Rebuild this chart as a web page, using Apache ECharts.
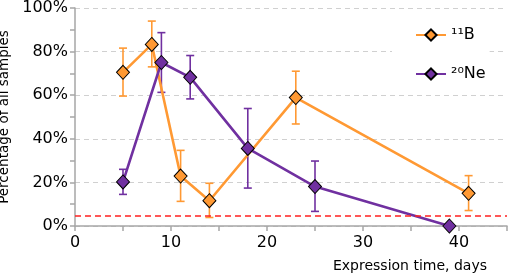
<!DOCTYPE html>
<html>
<head>
<meta charset="utf-8">
<script src="https://cdn.jsdelivr.net/npm/echarts@6/dist/echarts.min.js"></script>
<style>
html,body{margin:0;padding:0;background:#fff;}
#c{width:512px;height:277px;}
</style>
</head>
<body>
<div id="c"></div>
<script>
// ---- data ----
var bName = '\u00B9\u00B9B';
var neName = '\u00B2\u2070Ne';
var bX = [5, 8, 11, 14, 23, 41];
var bY = [70.5, 83.3, 22.9, 11.6, 58.9, 15.0];
var bLow = [59.6, 73.0, 11.3, 3.9, 46.8, 7.1];
var bHigh = [81.6, 94.0, 34.7, 19.6, 71.0, 23.1];
var neX = [5, 9, 12, 18, 25, 39];
var neY = [20.2, 75.0, 68.2, 35.6, 18.1, 0.0];
var neLow = [14.5, 61.3, 58.3, 17.4, 6.7, null];
var neHigh = [26.0, 88.7, 78.2, 53.9, 29.8, null];
var thresholdY = 4.5;
var xTicks = [0, 10, 20, 30, 40];
var yTicks = [0, 20, 40, 60, 80, 100];

var ORANGE = '#FF9933';
var PURPLE = '#7030A0';
var FONT = 'DejaVu Sans';

function pairs(xs, ys) { return xs.map(function (x, i) { return [x, ys[i]]; }); }
function errData(xs, lo, hi) {
  var out = [];
  xs.forEach(function (x, i) { if (lo[i] != null) out.push([x, lo[i], hi[i]]); });
  return out;
}
function errRender(color) {
  return function (params, api) {
    var x = api.value(0);
    var p1 = api.coord([x, api.value(1)]);
    var p2 = api.coord([x, api.value(2)]);
    var w = 4;
    var st = { stroke: color, lineWidth: 1.6 };
    return {
      type: 'group',
      children: [
        { type: 'line', shape: { x1: p1[0], y1: p1[1], x2: p2[0], y2: p2[1] }, style: st },
        { type: 'line', shape: { x1: p1[0] - w, y1: p1[1], x2: p1[0] + w, y2: p1[1] }, style: st },
        { type: 'line', shape: { x1: p2[0] - w, y1: p2[1], x2: p2[0] + w, y2: p2[1] }, style: st }
      ]
    };
  };
}

var chart = echarts.init(document.getElementById('c'), null, { renderer: 'canvas' });
var option = {
  animation: false,
  backgroundColor: '#fff',
  textStyle: { fontFamily: FONT },
  grid: { left: 75, right: 5, top: 8, bottom: 51, containLabel: false, outerBoundsMode: 'none' },
  legend: {
    orient: 'vertical',
    left: 392,
    top: 17,
    padding: [10, 4, 10, 23],
    backgroundColor: '#fff',
    itemWidth: 30,
    itemHeight: 14,
    itemGap: 23,
    textStyle: { fontFamily: FONT, fontSize: 16, color: '#000' },
    data: [bName, neName]
  },
  xAxis: {
    type: 'value',
    min: 0, max: 45, interval: 5,
    name: 'Expression time, days',
    nameLocation: 'end',
    nameGap: 0,
    nameTextStyle: { fontFamily: FONT, fontSize: 14, color: '#000', align: 'right', verticalAlign: 'top', padding: [33, 20, 0, 0] },
    axisLine: { lineStyle: { color: '#A6A6A6', width: 1.5 } },
    axisTick: { show: true, length: 5, lineStyle: { color: '#A6A6A6', width: 1.5 } },
    axisLabel: {
      fontFamily: FONT, fontSize: 16, color: '#000', margin: 9,
      formatter: function (v) { return xTicks.indexOf(v) >= 0 ? String(v) : ''; }
    },
    splitLine: { show: false }
  },
  yAxis: {
    type: 'value',
    min: 0, max: 100, interval: 20,
    name: 'Percentage of all samples',
    nameLocation: 'middle',
    nameGap: 57,
    nameTextStyle: { fontFamily: FONT, fontSize: 13.5, color: '#000' },
    axisLine: { show: true, lineStyle: { color: '#A6A6A6', width: 1.5 } },
    axisTick: { show: true, length: 5, lineStyle: { color: '#A6A6A6', width: 1.5 } },
    minorTick: { show: true, splitNumber: 2, length: 5, lineStyle: { color: '#A6A6A6', width: 1.5 } },
    axisLabel: {
      fontFamily: FONT, fontSize: 16, color: '#000', margin: 7,
      formatter: function (v) { return yTicks.indexOf(v) >= 0 ? v + '%' : ''; }
    },
    splitLine: { show: true, lineStyle: { color: '#D0D0D0', type: [5, 4], width: 1 } }
  },
  series: [
    {
      name: bName + ' err', type: 'custom', renderItem: errRender(ORANGE),
      data: errData(bX, bLow, bHigh), encode: { x: 0, y: [1, 2] }, z: 2
    },
    {
      name: neName + ' err', type: 'custom', renderItem: errRender(PURPLE),
      data: errData(neX, neLow, neHigh), encode: { x: 0, y: [1, 2] }, z: 2
    },
    {
      name: bName, type: 'line', data: pairs(bX, bY),
      symbol: 'diamond', symbolSize: [13, 14],
      lineStyle: { color: ORANGE, width: 2.6 },
      itemStyle: { color: ORANGE, borderColor: '#000', borderWidth: 1 },
      z: 3,
      markLine: {
        silent: true, symbol: 'none', label: { show: false },
        lineStyle: { color: '#FF2020', type: [6, 4], width: 1.5 },
        data: [{ yAxis: thresholdY }]
      }
    },
    {
      name: neName, type: 'line', data: pairs(neX, neY),
      symbol: 'diamond', symbolSize: [13, 14],
      lineStyle: { color: PURPLE, width: 2.6 },
      itemStyle: { color: PURPLE, borderColor: '#000', borderWidth: 1 },
      z: 4
    }
  ]
};
chart.setOption(option);
</script>
</body>
</html>
